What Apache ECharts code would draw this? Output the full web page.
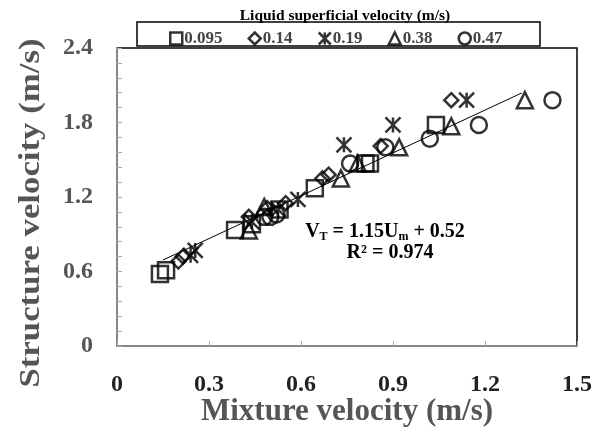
<!DOCTYPE html>
<html><head><meta charset="utf-8">
<script src="https://cdn.jsdelivr.net/npm/echarts@6/dist/echarts.min.js"></script>
<style>html,body{margin:0;padding:0;background:#fff}#c{width:603px;height:430px}</style>
</head><body><div id="c"></div>
<script>
const seriesNames = ['0.095', '0.14', '0.19', '0.38', '0.47'];
const sq095 = [[0.14,0.58],[0.16,0.61],[0.385,0.935],[0.44,0.98],[0.53,1.1],[0.645,1.27],[0.81,1.47],[0.825,1.47],[1.04,1.78]];
const dm014 = [[0.2,0.68],[0.215,0.72],[0.43,1.04],[0.49,1.11],[0.55,1.15],[0.67,1.35],[0.69,1.38],[0.86,1.61],[1.09,1.98]];
const st019 = [[0.24,0.73],[0.255,0.77],[0.44,1.0],[0.525,1.1],[0.59,1.18],[0.74,1.62],[0.9,1.78],[1.14,1.98]];
const tr038 = [[0.43,0.93],[0.48,1.12],[0.73,1.35],[0.785,1.47],[0.92,1.6],[1.09,1.77],[1.33,1.98]];
const ci047 = [[0.48,1.04],[0.5,1.04],[0.52,1.06],[0.76,1.47],[0.875,1.6],[1.02,1.67],[1.18,1.78],[1.42,1.98]];
const fitSlope = 1.15, fitIntercept = 0.52, fitRange = [0.15, 1.32];
const xTicks = [0, 0.3, 0.6, 0.9, 1.2, 1.5];
const yTicks = [0, 0.6, 1.2, 1.8, 2.4];

const serif = 'Liberation Serif';
const star = 'path://M0,0L10,10M10,0L0,10M5,0L5,10';
const symbols = ['rect', 'diamond', star, 'triangle', 'circle'];
const sizes = [16, 14, 15, 16, 16];
const datas = [sq095, dm014, st019, tr038, ci047];

const chart = echarts.init(document.getElementById('c'));
const series = datas.map((d, i) => ({
  name: seriesNames[i], type: 'scatter', data: d, symbol: symbols[i], symbolSize: sizes[i],
  itemStyle: {color: 'rgba(0,0,0,0)', borderColor: '#000', borderWidth: 2.5}, z: 3
}));
series.push({
  type: 'line', data: fitRange.map(x => [x, fitSlope * x + fitIntercept]), symbol: 'none',
  lineStyle: {color: '#000', width: 1}, z: 2, silent: true
});
chart.setOption({
  animation: false,
  title: {text: 'Liquid superficial velocity (m/s)', left: 340, top: 3, textAlign: 'center',
    textStyle: {fontFamily: serif, fontWeight: 'bold', fontSize: 15.5, color: '#000'}},
  legend: {data: seriesNames, left: 164, top: 25, itemWidth: 12, itemHeight: 12, itemGap: 25,
    textStyle: {fontFamily: serif, fontWeight: 'bold', fontSize: 17, color: '#444', padding: [0,0,0,-3]},
    itemStyle: {color: 'rgba(0,0,0,0)', borderColor: '#000', borderWidth: 2.5}},
  grid: {left: 117, right: 26, top: 48, bottom: 84, show: true, borderColor: '#000', borderWidth: 1.5,
    containLabel: false, outerBoundsMode: 'none'},
  xAxis: {type: 'value', min: 0, max: 1.5, interval: 0.3,
    name: 'Mixture velocity (m/s)', nameLocation: 'middle', nameGap: 50, nameMoveOverlap: false,
    nameTextStyle: {fontFamily: serif, fontWeight: 'bold', fontSize: 31, color: '#555'},
    axisLine: {show: true, lineStyle: {color: '#888', width: 2}},
    axisTick: {show: true, inside: true, length: 5, lineStyle: {color: '#aaa'}},
    splitLine: {show: false},
    axisLabel: {margin: 27, fontFamily: serif, fontWeight: 'bold', fontSize: 24, color: '#222',
      formatter: v => { const t = xTicks.find(x => Math.abs(x - v) < 1e-6); return t === undefined ? '' : String(t); }}},
  yAxis: {type: 'value', min: 0, max: 2.4, interval: 0.6,
    axisLine: {show: true, lineStyle: {color: '#888', width: 2}},
    axisTick: {show: true, inside: true, length: 5, lineStyle: {color: '#aaa'}},
    minorTick: {show: true, splitNumber: 5, length: 5, lineStyle: {color: '#aaa'}},
    splitLine: {show: false},
    axisLabel: {margin: 24, fontFamily: serif, fontWeight: 'bold', fontSize: 24, color: '#555',
      formatter: v => { const t = yTicks.find(y => Math.abs(y - v) < 1e-6); return t === undefined ? '' : String(t); }}},
  graphic: [
    {type: 'rect', shape: {x: 137, y: 22, width: 403, height: 24}, style: {fill: 'none', stroke: '#000', lineWidth: 1.5}, z: 1},
    {type: 'text', x: 31, y: 213, rotation: Math.PI / 2, scaleX: 1.16, style: {
      text: 'Structure velocity (m/s)', align: 'center', verticalAlign: 'middle',
      fontFamily: serif, fontWeight: 'bold', fontSize: 30, fill: '#555'}},
    {type: 'text', x: 385, y: 232, style: {
      text: '{b|V}{s|T}{b| = 1.15U}{s|m}{b| + 0.52}', align: 'center', verticalAlign: 'middle',
      rich: {b: {fontFamily: serif, fontWeight: 'bold', fontSize: 20, fill: '#000'},
             s: {fontFamily: serif, fontWeight: 'bold', fontSize: 12, fill: '#000', verticalAlign: 'bottom', padding: [10,0,0,0]}}}},
    {type: 'text', x: 390, y: 253, style: {text: 'R² = 0.974', align: 'center', verticalAlign: 'middle',
      fontFamily: serif, fontWeight: 'bold', fontSize: 20, fill: '#000'}}
  ],
  series: series
});
</script></body></html>
